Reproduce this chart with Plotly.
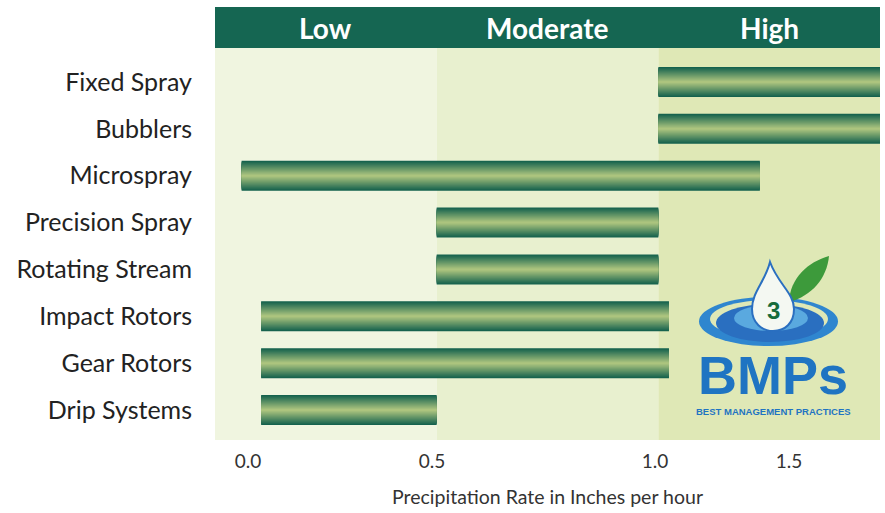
import plotly.graph_objects as go

# ---------------- data ----------------
categories = ["Fixed Spray", "Bubblers", "Microspray", "Precision Spray",
              "Rotating Stream", "Impact Rotors", "Gear Rotors", "Drip Systems"]
rate_low = [1.0, 1.0, 0.06, 0.5, 0.5, 0.104, 0.104, 0.104]
rate_high = [1.5, 1.5, 1.229, 1.0, 1.0, 1.024, 1.024, 0.5]

zone_names = ["Low", "Moderate", "High"]
zone_start = [0.0, 0.5, 1.0]
zone_end = [0.5, 1.0, 1.5]

tick_labels = ["0.0", "0.5", "1.0", "1.5"]
tick_positions = [0.0744, 0.4895, 0.9925, 1.2948]

# ---------------- styling ----------------
W, H = 885, 513
ML, MR, MT, MB = 215, 5, 7, 73
PW, PH = W - ML - MR, H - MT - MB
FONT = "Lato"
zone_colors = ["#f0f5e0", "#e8f0cf", "#dfe8b6"]
header_color = "#156652"
dark = (21, 98, 78)
light = (172, 196, 126)


def px(x):
    return (x - ML) / PW


def py(y):
    return (MT + PH - y) / PH


fig = go.Figure()

# gradient bars: overlaid bars of decreasing thickness
n_layers = 15
full_w = 0.64
for k in range(n_layers):
    t = k / (n_layers - 1)
    c = tuple(round(dark[i] + (light[i] - dark[i]) * t) for i in range(3))
    w = full_w * (1 - k / n_layers)
    fig.add_trace(go.Bar(
        y=categories,
        x=[h - l for l, h in zip(rate_low, rate_high)],
        base=rate_low,
        orientation="h",
        width=w,
        marker=dict(color="rgb(%d,%d,%d)" % c, line=dict(width=0)),
        showlegend=False,
        hoverinfo="skip" if k else None,
    ))

shapes = []
annotations = []
# zone backgrounds
for zs, ze, zc in zip(zone_start, zone_end, zone_colors):
    shapes.append(dict(type="rect", xref="x", yref="paper", x0=zs, x1=ze,
                       y0=py(440), y1=py(48), fillcolor=zc, line=dict(width=0),
                       layer="below"))
# header band
shapes.append(dict(type="rect", xref="x", yref="paper", x0=zone_start[0], x1=zone_end[-1],
                   y0=py(48), y1=py(7), fillcolor=header_color, line=dict(width=0),
                   layer="below"))
for name, zs, ze in zip(zone_names, zone_start, zone_end):
    annotations.append(dict(x=(zs + ze) / 2, y=py(27.5), xref="x", yref="paper",
                            text="<b>%s</b>" % name, showarrow=False,
                            font=dict(family=FONT, size=28, color="white"),
                            xanchor="center", yanchor="middle"))


# ---------- BMPs logo (decorative) ----------
def ell(x0, x1, y0, y1, color):
    shapes.append(dict(type="circle", xref="paper", yref="paper",
                       x0=px(x0), x1=px(x1), y0=py(y1), y1=py(y0),
                       fillcolor=color, line=dict(width=0), layer="above"))


def path(pts_cmds, fill, line_color=None, lw=0):
    s = ""
    for cmd, pts in pts_cmds:
        s += cmd + " " + " ".join("%.5f,%.5f" % (px(a), py(b)) for a, b in pts) + " "
    s += "Z"
    shapes.append(dict(type="path", xref="paper", yref="paper", path=s,
                       fillcolor=fill,
                       line=dict(width=lw, color=line_color or fill),
                       layer="above"))


ell(699, 838, 297, 346, "#2f86cf")
ell(710, 828, 300, 338, zone_colors[2])
ell(716, 824, 304, 342, "#2a6fc0")
ell(734, 808, 305, 331, "#5aa9df")
# leaf
path([("M", [(789, 302)]),
      ("C", [(790, 278), (808, 262), (829, 256)]),
      ("C", [(827, 278), (812, 296), (789, 302)])], "#3d9a3b")
# droplet
path([("M", [(770, 262)]),
      ("C", [(765, 282), (752, 292), (752, 309)]),
      ("C", [(752, 323), (762, 331), (773, 331)]),
      ("C", [(785, 331), (794, 323), (794, 309)]),
      ("C", [(794, 293), (778, 284), (770, 262)])], "#f4f8f2", "#2a6fc0", 2)
annotations.append(dict(x=px(773), y=py(310), xref="paper", yref="paper",
                        text="<b>3</b>", showarrow=False,
                        font=dict(family="Liberation Sans", size=24, color="#166b3c"),
                        xanchor="center", yanchor="middle"))
annotations.append(dict(x=px(773), y=py(375), xref="paper", yref="paper",
                        text="<b>BMPs</b>", showarrow=False,
                        font=dict(family="Liberation Sans", size=54, color="#1f74c2"),
                        xanchor="center", yanchor="middle"))
annotations.append(dict(x=px(773), y=py(411), xref="paper", yref="paper",
                        text="<b>BEST MANAGEMENT PRACTICES</b>", showarrow=False,
                        font=dict(family="Liberation Sans", size=9.5, color="#1f74c2"),
                        xanchor="center", yanchor="middle"))

fig.update_layout(
    width=W, height=H,
    margin=dict(l=ML, r=MR, t=MT, b=MB),
    barmode="overlay",
    paper_bgcolor="white",
    plot_bgcolor="white",
    shapes=shapes,
    annotations=annotations,
    font=dict(family=FONT, color="#222222"),
    xaxis=dict(range=[0, 1.5], tickvals=tick_positions, ticktext=tick_labels,
               showgrid=False, zeroline=False, showline=False, ticks="",
               ticklabelstandoff=8,
               tickfont=dict(size=19, color="#333333"),
               title=dict(text="Precipitation Rate in Inches per hour",
                          font=dict(size=19.5, color="#333333"), standoff=19),
               fixedrange=True),
    yaxis=dict(categoryorder="array", categoryarray=categories,
               range=[7.64, -1.60], showgrid=False, zeroline=False,
               showline=False, ticks="", ticklabelstandoff=22,
               tickfont=dict(size=25, color="#222222"), fixedrange=True),
)

fig.write_html("out.html", config={"displayModeBar": False},
               post_script="document.body.style.margin='0';")
